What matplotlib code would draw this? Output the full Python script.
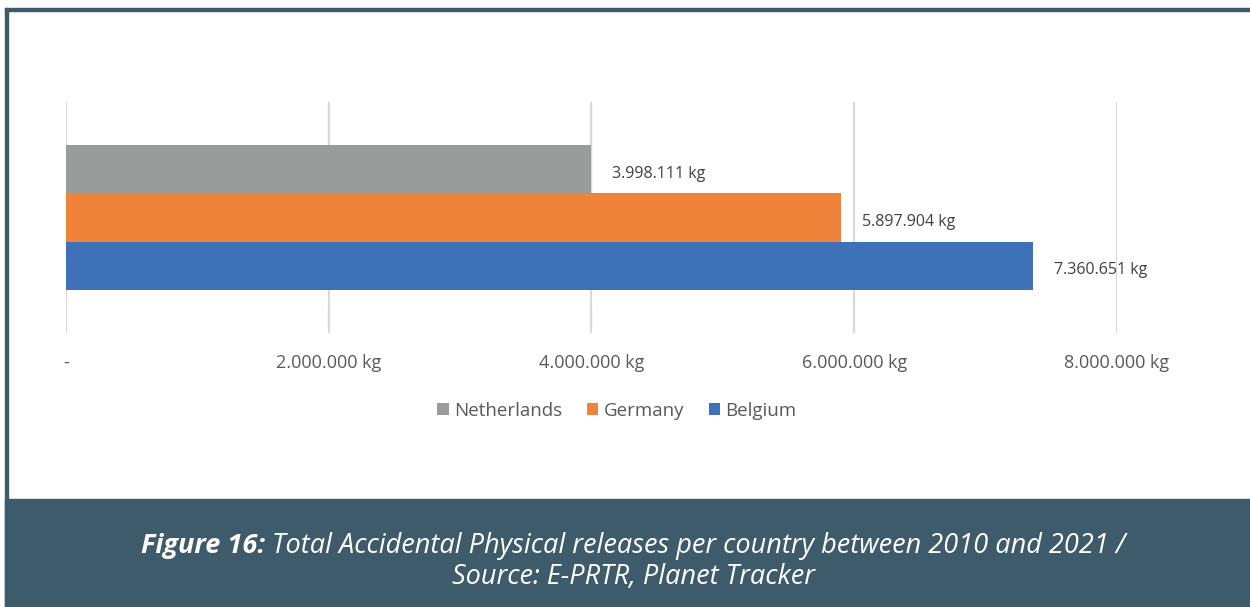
import matplotlib.pyplot as plt
from matplotlib.patches import Rectangle

countries = ["Netherlands", "Germany", "Belgium"]
releases_kg = [3998111, 5897904, 7360651]
bar_colors = ["#9a9c9c", "#f0833a", "#3f71b8"]
tick_values = [0, 2000000, 4000000, 6000000, 8000000]
tick_labels = ["-", "2.000.000 kg", "4.000.000 kg", "6.000.000 kg", "8.000.000 kg"]
caption_bold = "Figure 16:"
caption_rest = " Total Accidental Physical releases per country between 2010 and 2021 /"
caption_line2 = "Source: E-PRTR, Planet Tracker"

plt.rcParams['font.family'] = ['Open Sans', 'DejaVu Sans']

W, H = 1250, 607
fig = plt.figure(figsize=(W / 100, H / 100), dpi=100)
fig.patch.set_facecolor("white")

frame_col = "#3e5b6b"
# frame lines (left and top) and caption band
fig.add_artist(Rectangle((5 / W, 0), 2.5 / W, 1 - 8 / H, transform=fig.transFigure, color=frame_col, zorder=0))
fig.add_artist(Rectangle((5 / W, 1 - 10.5 / H), 1, 2.5 / H, transform=fig.transFigure, color=frame_col, zorder=0))
fig.add_artist(Rectangle((5 / W, 0), 1, 108 / H, transform=fig.transFigure, color=frame_col, zorder=0))

ax = fig.add_axes([66 / W, (H - 333) / H, (1117 - 66) / W, 231 / H])
ax.set_xlim(0, 8000000)
ax.set_ylim(-0.8, 0.8)

bar_h = 1 / 3
offsets = [bar_h, 0, -bar_h]
for name, val, col, off in zip(countries, releases_kg, bar_colors, offsets):
    ax.barh(off, val, height=bar_h, color=col, label=name, zorder=2)
    lbl = f"{val:,} kg".replace(",", ".")
    ax.annotate(lbl, (val, off), xytext=(15, -3), textcoords="offset points",
                va="center", ha="left", fontsize=11.5, color="#404040", annotation_clip=False)

for s in ax.spines.values():
    s.set_visible(False)
ax.set_yticks([])
ax.set_xticks(tick_values)
ax.set_xticklabels(tick_labels, fontsize=13, color="#595959")
ax.tick_params(axis="x", length=0, pad=15)
ax.grid(axis="x", color="#d9d9d9", linewidth=1.6, zorder=0)
ax.set_axisbelow(True)

leg = fig.legend(loc="center", bbox_to_anchor=(617 / W, 1 - 411 / H), ncol=3, frameon=False,
                 fontsize=13.5, handlelength=0.6, handleheight=0.6, handletextpad=0.3,
                 columnspacing=1.3, labelcolor="#595959")

# caption, bold part + italic rest centred together
fig.canvas.draw()
r = fig.canvas.get_renderer()
cap_size = 19.5
y1 = 1 - 546 / H
t1 = fig.text(0, y1, caption_bold, fontsize=cap_size, fontweight="bold", fontstyle="italic",
              color="white", va="center", ha="left")
t2 = fig.text(0, y1, caption_rest, fontsize=cap_size, fontstyle="italic",
              color="white", va="center", ha="left")
w1 = t1.get_window_extent(r).width
w2 = t2.get_window_extent(r).width
x0 = (W / 2 + 8 - (w1 + w2) / 2)
t1.set_x(x0 / W)
t2.set_x((x0 + w1) / W)
fig.text((W / 2 + 8) / W, 1 - 577 / H, caption_line2, fontsize=cap_size, fontstyle="italic",
         color="white", va="center", ha="center")

fig.savefig("out.png", dpi=100)
